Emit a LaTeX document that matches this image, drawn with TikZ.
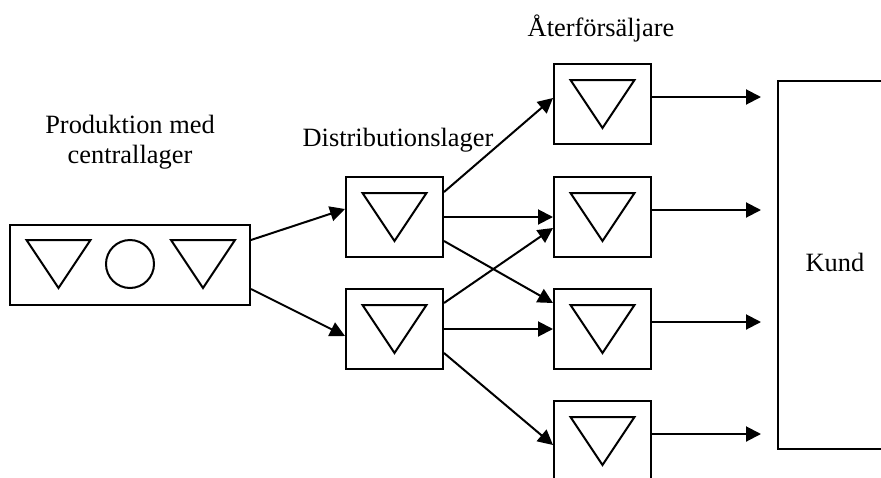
\documentclass[tikz,border=0pt]{standalone}
\usepackage{fontspec}
\setmainfont{Liberation Serif}
\usetikzlibrary{arrows.meta,calc}

\tikzset{
  stock/.pic={\draw[line width=2pt] (-32,-24) -- (32,-24) -- (0,24) -- cycle;},
  store/.style={draw, line width=2pt, inner sep=0pt, minimum width=97pt, minimum height=80pt},
  flow/.style={line width=2pt, -{Triangle[length=15pt,width=15pt]}},
  label/.style={font=\fontsize{26.4}{30}\selectfont, align=center, inner sep=0pt}
}

\begin{document}
\begin{tikzpicture}[x=1pt,y=-1pt]
\useasboundingbox (0,0) rectangle (881,477);

% production with central warehouse
\node[draw, line width=2pt, inner sep=0pt, minimum width=240pt, minimum height=80pt] (prod) at (130,265) {};
\pic at (58.5,264) {stock};
\node[draw, circle, line width=2pt, inner sep=0pt, minimum size=48pt] (mid) at (130,264) {};
\pic at (203,264) {stock};
\node[label, anchor=base] (prodlbl) at (130,163) {Produktion med\\centrallager};

% distribution warehouses
\node[store] (d1) at (394.5,217) {};
\node[store] (d2) at (394.5,329) {};
\pic at (394.5,217) {stock};
\pic at (394.5,329) {stock};
\node[label, anchor=base] (distlbl) at (398,146) {Distributionslager};

% retailers
\foreach \i/\y in {1/104, 2/217, 3/329, 4/441} {
  \node[store] (r\i) at (602.5,\y) {};
  \pic at (602.5,\y) {stock};
}
\node[label, anchor=base] (retlbl) at (601,36) {Återförsäljare};

% customer
\node[draw, line width=2pt, inner sep=0pt, minimum width=114pt, minimum height=368pt] (kund) at (835,265) {};
\node[label] (kundlbl) at (835,262) {Kund};

% flows production -> distribution
\draw[flow] ($(prod.east)+(0,-25)$) -- ($(d1.west)+(0,-8)$);
\draw[flow] ($(prod.east)+(0,24)$) -- ($(d2.west)+(0,7)$);

% flows distribution -> retailers
\draw[flow] ($(d1.east)+(0,-25)$) -- ($(r1.west)+(0,-6)$);
\draw[flow] (d1.east) -- (r2.west);
\draw[flow] ($(d1.east)+(0,24)$) -- ($(r3.west)+(0,-26)$);
\draw[flow] ($(d2.east)+(0,-26)$) -- ($(r2.west)+(0,11)$);
\draw[flow] (d2.east) -- (r3.west);
\draw[flow] ($(d2.east)+(0,24)$) -- ($(r4.west)+(0,4)$);

% flows retailers -> customer
\foreach \i in {1,2,3,4} {
  \coordinate (k\i) at ($(r\i.east -| kund.west)+(-16,-7)$);
  \draw[flow] ($(r\i.east)+(0,-7)$) -- (k\i);
}
\end{tikzpicture}
\end{document}
